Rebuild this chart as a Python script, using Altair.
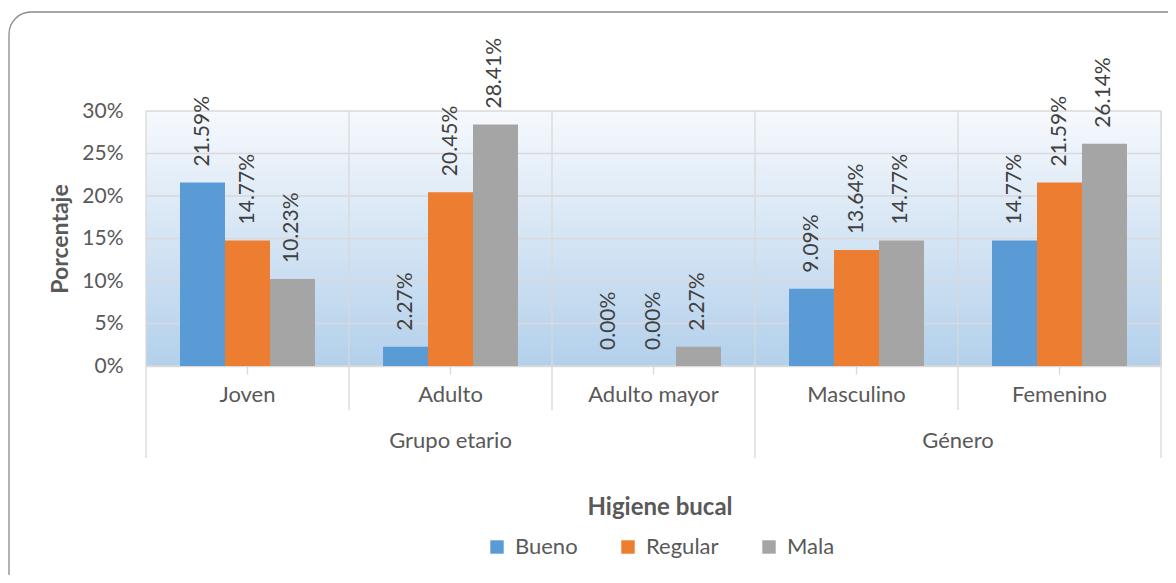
import altair as alt
import pandas as pd

categories = ["Joven", "Adulto", "Adulto mayor", "Masculino", "Femenino"]
series = ["Bueno", "Regular", "Mala"]
bueno = [0.2159, 0.0227, 0.0000, 0.0909, 0.1477]
regular = [0.1477, 0.2045, 0.0000, 0.1364, 0.2159]
mala = [0.1023, 0.2841, 0.0227, 0.1477, 0.2614]
colors = ["#5b9bd5", "#ed7d31", "#a5a5a5"]
y_ticks = [0.0, 0.05, 0.10, 0.15, 0.20, 0.25, 0.30]
short_seps = ["Adulto", "Adulto mayor", "Femenino"]
long_seps_left = ["Joven", "Masculino"]
long_seps_right = ["Femenino"]
group_center_label = ["Grupo etario"]
group_center_at = ["Adulto"]
group_edge_label = ["Género"]
group_edge_at = ["Femenino"]

W, H = 1015, 255
FONT = "Lato"
TXT = "#595959"
GRID = "#d9d9d9"

rows = []
for s, vals in zip(series, [bueno, regular, mala]):
    for c, v in zip(categories, vals):
        rows.append({"cat": c, "serie": s, "val": v})
df = pd.DataFrame(rows)

xscale = alt.Scale(domain=categories, paddingInner=0, paddingOuter=0)
yscale = alt.Scale(domain=[0, 0.3], nice=False)

xaxis = alt.Axis(
    grid=False, labelAngle=0, domainColor=GRID, domainWidth=1.3,
    tickColor=GRID, tickWidth=1.3, tickSize=8, labelPadding=10,
    labelFontSize=22, labelColor=TXT, labelFont=FONT, title=None,
)
yaxis = alt.Axis(
    values=y_ticks, format=".0%", grid=False, ticks=False, domain=False,
    labelPadding=23, labelFontSize=21, labelColor=TXT, labelFont=FONT,
    title="Porcentaje", titleFontSize=23, titleFontWeight="bold",
    titleColor=TXT, titleFont=FONT, titleX=-86, titleY=H / 2,
    titleAngle=270, titleBaseline="middle", titleAlign="center",
)

one = pd.DataFrame({"k": [0]})

bg = alt.Chart(one).mark_rect(
    color=alt.Gradient(
        gradient="linear",
        stops=[alt.GradientStop(color="#f6f9fd", offset=0),
               alt.GradientStop(color="#b3d0eb", offset=1)],
        x1=0, x2=0, y1=0, y2=1,
    )
).encode(x=alt.value(0), x2=alt.value(W), y=alt.value(0), y2=alt.value(H))

border = alt.Chart(one).mark_rect(
    fill="transparent", stroke="#8a8a8a", strokeWidth=1.3, cornerRadius=22
).encode(x=alt.value(-137), x2=alt.value(W + 80), y=alt.value(-99), y2=alt.value(H + 280))

hgrid = alt.Chart(pd.DataFrame({"val": y_ticks})).mark_rule(
    color=GRID, strokeWidth=1.3
).encode(y=alt.Y("val:Q", scale=yscale, axis=yaxis), x=alt.value(0), x2=alt.value(W))

vshort = alt.Chart(pd.DataFrame({"cat": short_seps})).mark_rule(
    color=GRID, strokeWidth=1.3
).encode(
    x=alt.X("cat:N", sort=categories, scale=xscale, bandPosition=0, axis=xaxis),
    y=alt.value(0), y2=alt.value(H + 44),
)
vlong_l = alt.Chart(pd.DataFrame({"cat": long_seps_left})).mark_rule(
    color=GRID, strokeWidth=1.3
).encode(
    x=alt.X("cat:N", sort=categories, scale=xscale, bandPosition=0, axis=xaxis),
    y=alt.value(0), y2=alt.value(H + 92),
)
vlong_r = alt.Chart(pd.DataFrame({"cat": long_seps_right})).mark_rule(
    color=GRID, strokeWidth=1.3
).encode(
    x=alt.X("cat:N", sort=categories, scale=xscale, bandPosition=1, axis=xaxis),
    y=alt.value(0), y2=alt.value(H + 92),
)

g1 = alt.Chart(pd.DataFrame({"cat": group_center_at, "lab": group_center_label})).mark_text(
    font=FONT, fontSize=22, color=TXT, baseline="middle"
).encode(
    x=alt.X("cat:N", sort=categories, scale=xscale, bandPosition=0.5, axis=xaxis),
    y=alt.value(H + 75), text="lab:N",
)
g2 = alt.Chart(pd.DataFrame({"cat": group_edge_at, "lab": group_edge_label})).mark_text(
    font=FONT, fontSize=22, color=TXT, baseline="middle"
).encode(
    x=alt.X("cat:N", sort=categories, scale=xscale, bandPosition=0, axis=xaxis),
    y=alt.value(H + 75), text="lab:N",
)

base = alt.Chart(df).encode(
    x=alt.X("cat:N", sort=categories, scale=xscale, axis=xaxis),
    xOffset=alt.XOffset(
        "serie:N", sort=series,
        scale=alt.Scale(domain=series, paddingInner=0, paddingOuter=0.756),
    ),
    y=alt.Y("val:Q", scale=yscale, axis=yaxis),
)

bars = base.mark_bar().encode(
    color=alt.Color(
        "serie:N", sort=series,
        scale=alt.Scale(domain=series, range=colors),
        legend=alt.Legend(
            title="Higiene bucal", orient="none", legendX=340, legendY=385,
            direction="horizontal", titleAnchor="middle", titleFontSize=24,
            titleFontWeight="bold", titleColor=TXT, titleFont=FONT,
            titlePadding=16, labelFontSize=22, labelColor=TXT, labelFont=FONT,
            symbolType="square", symbolSize=180, symbolStrokeWidth=0,
            columnPadding=39, labelOffset=7,
        ),
    )
)

labels = base.mark_text(
    angle=270, align="left", baseline="middle", dx=16,
    font=FONT, fontSize=21, color="#404040",
).encode(text=alt.Text("val:Q", format=".2%"))

chart = alt.layer(
    bg, hgrid, vshort, vlong_l, vlong_r, bars, labels, g1, g2, border
).properties(
    width=W, height=H,
    padding={"left": 138, "top": 103, "right": 7, "bottom": 209},
    autosize="none",
).configure_view(stroke="transparent").configure(font=FONT)

chart.save("out.html", embed_options={"renderer": "svg", "actions": False})
